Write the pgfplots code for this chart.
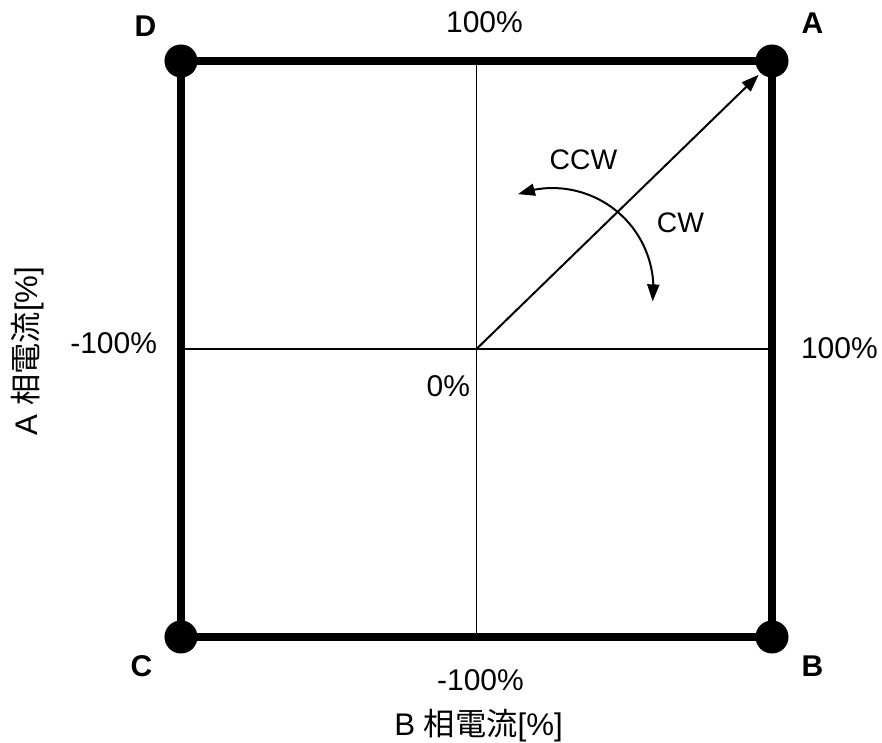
\documentclass[border=0pt]{standalone}
\usepackage{pgfplots}
\pgfplotsset{compat=1.18}
\usepackage{fontspec}
\setmainfont{Liberation Sans}
\newfontfamily\cjk{Noto Sans CJK JP}
\usetikzlibrary{arrows.meta,bending}
\tikzset{lbl/.style={inner sep=0pt, font=\fontsize{12}{14}\selectfont}}
\begin{document}
\begin{tikzpicture}
\begin{axis}[
  scale only axis, width=352.8pt, height=296.8pt,
  xmin=-1.6125, xmax=1.3723, ymin=-1.3646, ymax=1.2118,
  hide axis, clip=false,
]
\path (axis cs:-1.6125,-1.3646) rectangle (axis cs:1.3723,1.2118);
% cross lines
\addplot[black, line width=0.6pt] coordinates {(-1,0) (1,0)};
\addplot[black, line width=0.6pt] coordinates {(0,-1) (0,1)};
% square
\addplot[black, line width=3.2pt] coordinates {(-1,1) (1,1) (1,-1) (-1,-1)} -- cycle;
% corner dots
\addplot[only marks, mark=*, mark size=6.4pt, black] coordinates {(-1,1) (1,1) (1,-1) (-1,-1)};
% diagonal arrow
\addplot[black, line width=0.8pt, -{Triangle[length=7pt,width=5pt]}] coordinates {(0,0) (0.955,0.952)};
% rotation arc
\draw[black, line width=0.8pt, {Triangle[length=6.8pt,width=4.8pt,flex]}-{Triangle[length=6.8pt,width=4.8pt,flex]}]
  (axis cs:0.257,0.208) ++(110:40.4pt) arc[start angle=110, end angle=-7, radius=40.4pt];
% corner letters
\node[lbl, font=\fontsize{12}{14}\selectfont\bfseries] at (axis cs:-1.120,1.122) {D};
\node[lbl, font=\fontsize{12}{14}\selectfont\bfseries] at (axis cs:1.137,1.132) {A};
\node[lbl, font=\fontsize{12}{14}\selectfont\bfseries] at (axis cs:1.137,-1.101) {B};
\node[lbl, font=\fontsize{12}{14}\selectfont\bfseries] at (axis cs:-1.134,-1.101) {C};
% value labels
\node[lbl] at (axis cs:0.027,1.135) {100\%};
\node[lbl] at (axis cs:0.0135,-1.149) {-100\%};
\node[lbl] at (axis cs:-1.228,0.021) {-100\%};
\node[lbl] at (axis cs:1.228,0.003) {100\%};
\node[lbl] at (axis cs:-0.095,-0.128) {0\%};
\node[lbl, font=\fontsize{11.3}{13}\selectfont] at (axis cs:0.362,0.656) {CCW};
\node[lbl, font=\fontsize{11.3}{13}\selectfont] at (axis cs:0.690,0.4375) {CW};
% axis labels
\node[lbl, font=\fontsize{12.5}{15}\selectfont] at (axis cs:0.007,-1.309) {B {\cjk 相電流}[\%]};
\node[lbl, font=\fontsize{12.5}{15}\selectfont, rotate=90] at (axis cs:-1.519,-0.007) {A {\cjk 相電流}[\%]};
\end{axis}
\end{tikzpicture}
\end{document}
